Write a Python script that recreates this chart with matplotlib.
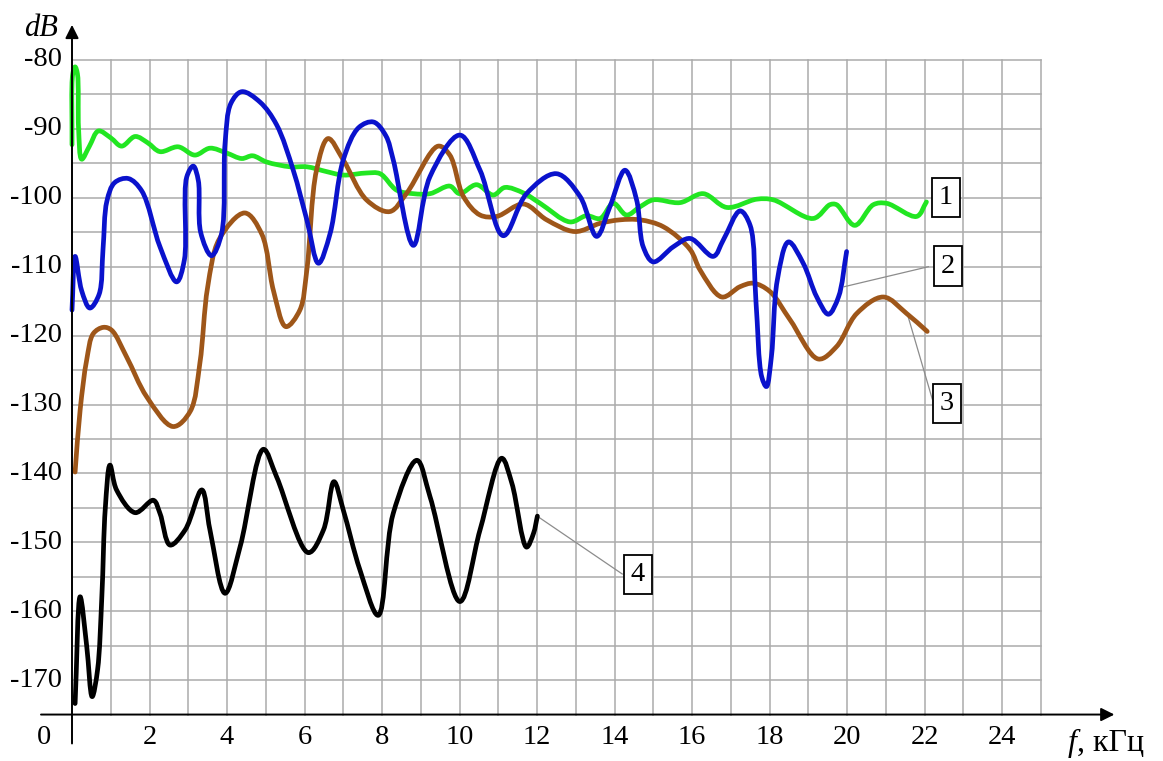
import numpy as np
import matplotlib.pyplot as plt
from matplotlib.path import Path
from matplotlib.patches import PathPatch

# spectra, frequency in kHz and level in dB
green_f = [0.0, 0.02, 0.08, 0.14, 0.17, 0.25, 0.45, 0.68, 1.0, 1.28, 1.63, 1.95, 2.27, 2.74,
           3.17, 3.56, 3.99, 4.38, 4.66, 5.02, 5.63, 6.06, 6.57, 7.0, 7.6, 7.95, 8.38, 8.81,
           9.24, 9.75, 10.0, 10.44, 10.87, 11.17, 11.65, 12.08, 12.85, 13.28, 13.63, 13.97,
           14.31, 14.66, 15.0, 15.69, 16.29, 16.9, 17.67, 18.1, 19.13, 19.56, 19.73, 20.2,
           20.68, 21.02, 21.8, 22.05]
green_db = [-92.3, -82, -81, -82, -90, -94.4, -92.5, -90.3, -91.3, -92.5, -91.1, -92.0, -93.3,
            -92.6, -93.8, -92.8, -93.5, -94.3, -93.9, -94.8, -95.5, -95.5, -96.2, -96.7, -96.4,
            -96.5, -98.9, -99.4, -99.4, -98.3, -99.4, -98.1, -99.6, -98.5, -99.3, -100.8, -103.5,
            -102.6, -103.0, -100.8, -102.5, -101.3, -100.3, -100.7, -99.4, -101.4, -100.2,
            -100.3, -103.0, -101.0, -101.0, -104.0, -101.0, -100.8, -102.7, -100.6]

blue_f = [0.0, 0.08, 0.25, 0.46, 0.7, 0.8, 0.9, 1.1, 1.45, 1.8, 2.27, 2.7, 2.9, 2.96, 3.13,
          3.26, 3.32, 3.6, 3.86, 3.95, 4.1, 4.38, 4.85, 5.28, 5.71, 6.06, 6.36, 6.66, 7.0, 7.4,
          7.78, 8.1, 8.29, 8.81, 9.24, 10.01, 10.53, 11.13, 11.73, 12.5, 13.11, 13.54, 13.88,
          14.27, 14.57, 14.74, 15.0, 15.52, 15.95, 16.55, 16.81, 17.24, 17.5, 17.65, 17.8,
          17.92, 18.05, 18.2, 18.49, 18.87, 19.22, 19.52, 19.78, 19.99]
blue_db = [-116.3, -108.5, -113.5, -116, -114, -107.5, -100.5, -97.8, -97.2, -99, -107.1, -112.2,
           -109, -97, -95.4, -97.5, -105, -108.4, -105.2, -92.1, -86.3, -84.6, -86.1, -89.4, -96,
           -103.2, -109.5, -105.2, -94.5, -89.8, -89, -91, -94.5, -106.9, -96.9, -90.9, -96,
           -105.5, -99.4, -96.5, -99.8, -105.6, -101.3, -96, -100.3, -107.1, -109.3, -107.1,
           -105.9, -108.5, -106.1, -101.9, -104.0, -115.0, -126.0, -127.4, -123.0, -112.0,
           -106.4, -109.5, -114.4, -116.9, -114.4, -107.8]

brown_f = [0.08, 0.21, 0.38, 0.55, 0.81, 1.02, 1.41, 1.93, 2.61, 3.05, 3.3, 3.5, 3.8,
           4.46, 4.9, 5.2, 5.52, 5.88, 6.06, 6.31, 6.61, 7.0, 7.6, 8.2, 8.64, 9.45, 9.75, 10.1,
           10.53, 10.96, 11.65, 12.25, 12.98, 13.63, 14.14, 14.66, 15.26, 15.95, 16.21, 16.77,
           17.24, 17.58, 18.01, 18.53, 19.26, 19.73, 20.25, 20.94, 21.54, 22.07]
brown_db = [-139.8, -130.8, -123.5, -119.7, -118.8, -119.2, -123.1, -128.9, -133.2, -131.0,
            -124.0, -113.0, -106.0, -102.2, -105.3, -113.5, -118.7, -116.3, -110.5, -96,
            -91.4, -94.5, -100.3, -102, -99.3, -92.5, -93.8, -99.8, -102.5, -102.7, -100.9,
            -103.2, -104.9, -103.7, -103.2, -103.2, -104.2, -107.5, -110.5, -114.4, -112.9,
            -112.4, -113.6, -117.7, -123.4, -121.6, -116.8, -114.4, -116.8, -119.4]

black_f = [0.08, 0.21, 0.38, 0.52, 0.66, 0.77, 0.86, 0.98, 1.15, 1.63, 2.1, 2.27, 2.53, 2.92,
           3.35, 3.56, 3.95, 4.34, 4.94, 5.28, 6.1, 6.49, 6.76, 7.0, 7.43, 7.9, 8.29, 8.9,
           9.24, 10.01, 10.53, 11.09, 11.35, 11.73, 11.91, 12.01]
black_db = [-173.4, -157.9, -165.1, -172.4, -168.5, -157.9, -145.0, -138.8, -142.4, -145.7,
            -143.9, -145.8, -150.4, -148.2, -142.4, -148.2, -157.4, -150.6, -136.5, -140.5,
            -151.5, -148.2, -141.2, -145.3, -154, -160.6, -145.8, -138.1, -143.4, -158.6,
            -148.2, -137.8, -141.4, -150.7, -148.7, -146.2]

x_ticks = list(range(2, 25, 2))
y_ticks = list(range(-80, -171, -10))

plt.rcParams['font.family'] = ['Liberation Serif', 'DejaVu Serif']

# pixel scale of the drawing: 38.75 px per kHz, 6.89 px per dB
px_f, px_db = 38.75, 6.89
W, H = 1163, 761
x0, y0 = 72, 60   # pixel of (0 kHz, -80 dB)

fig = plt.figure(figsize=(W / 100, H / 100), dpi=100)
ax = fig.add_axes([0, 0, 1, 1])
ax.set_xlim(-x0 / px_f, (W - x0) / px_f)
ax.set_ylim(-80 - (H - y0) / px_db, -80 + y0 / px_db)
ax.axis('off')

# grid
grid_c = '#ababab'
for f in range(1, 26):
    ax.plot([f, f], [-175, -80], color=grid_c, lw=1.1, zorder=1)
for d in range(-80, -175, -5):
    ax.plot([0, 25], [d, d], color=grid_c, lw=1.1, zorder=1)


def smooth(xs, ys):
    # centripetal Catmull-Rom through the points, as Bezier segments in screen proportions
    scale = np.array([px_f, px_db])
    p = np.column_stack([xs, ys]) * scale
    p = np.vstack([2 * p[0] - p[1], p, 2 * p[-1] - p[-2]])
    verts = [p[1]]
    codes = [Path.MOVETO]
    for i in range(1, len(p) - 2):
        p0, p1, p2, p3 = p[i - 1], p[i], p[i + 1], p[i + 2]
        t01 = max(np.linalg.norm(p1 - p0) ** 0.5, 1e-6)
        t12 = max(np.linalg.norm(p2 - p1) ** 0.5, 1e-6)
        t23 = max(np.linalg.norm(p3 - p2) ** 0.5, 1e-6)
        m1 = ((p1 - p0) / t01 - (p2 - p0) / (t01 + t12) + (p2 - p1) / t12) * t12
        m2 = ((p2 - p1) / t12 - (p3 - p1) / (t12 + t23) + (p3 - p2) / t23) * t12
        verts += [p1 + m1 / 3, p2 - m2 / 3, p2]
        codes += [Path.CURVE4] * 3
    return Path(np.array(verts) / scale, codes)


for xs, ys, col in [(green_f, green_db, '#22e622'),
                    (brown_f, brown_db, '#9e5619'),
                    (blue_f, blue_db, '#0a12cc'),
                    (black_f, black_db, 'black')]:
    ax.add_patch(PathPatch(smooth(xs, ys), fc='none', ec=col, lw=3.4,
                           capstyle='round', joinstyle='round', zorder=3))

# axes with arrows
arr = dict(arrowstyle='-|>', color='black', lw=1.4, mutation_scale=20, shrinkA=0, shrinkB=0)
ax.annotate('', xy=(0, -74.9), xytext=(0, -179.2), arrowprops=arr, zorder=4)
ax.annotate('', xy=(26.9, -175), xytext=(-0.8, -175), arrowprops=arr, zorder=4)

fs = 20.5
for d in y_ticks:
    ax.text(-0.27, d, str(d), ha='right', va='center', fontsize=fs)
ax.text(-0.72, -178.4, '0', ha='center', va='center', fontsize=fs)
for f in x_ticks:
    ax.text(f, -178.4, str(f), ha='center', va='center', fontsize=fs)

ax.text(-0.8, -75.4, 'dB', ha='center', va='center', fontsize=22, style='italic')
t = ax.text(25.7, -180.3, 'f', ha='left', va='baseline', fontsize=23, style='italic')
ax.annotate(', кГц', xy=(1, -180.3), xycoords=(t, 'data'), ha='left', va='baseline', fontsize=23)

# curve labels
box = dict(boxstyle='square,pad=0.25', fc='white', ec='black', lw=1.3)
lead = dict(color='#8c8c8c', lw=0.9, zorder=2)
ax.text(22.55, -100.0, '1', ha='center', va='center', fontsize=fs, bbox=box, zorder=5)
ax.plot([19.93, 22.1], [-112.9, -110.0], **lead)
ax.text(22.6, -109.9, '2', ha='center', va='center', fontsize=fs, bbox=box, zorder=5)
ax.plot([21.58, 22.2], [-117.3, -129.2], **lead)
ax.text(22.58, -129.9, '3', ha='center', va='center', fontsize=fs, bbox=box, zorder=5)
ax.plot([12.03, 14.2], [-146.3, -154.6], **lead)
ax.text(14.6, -154.7, '4', ha='center', va='center', fontsize=fs, bbox=box, zorder=5)

fig.savefig('out.png', dpi=100)
